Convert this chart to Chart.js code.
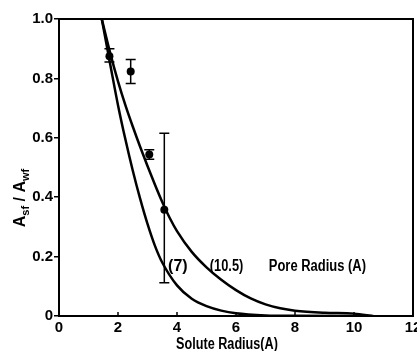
<!DOCTYPE html>
<html>
<head>
<meta charset="utf-8">
<script src="https://cdn.jsdelivr.net/npm/chart.js@4.4.1/dist/chart.umd.min.js"></script>
<style>
body { margin: 0; background: #fff; }
#wrap { width: 417px; height: 351px; }
</style>
</head>
<body>
<div id="wrap"><canvas id="poreChart"></canvas></div>
<script>
const xTicks = [0, 2, 4, 6, 8, 10, 12];
const yTicks = [0, 0.2, 0.4, 0.6, 0.8, 1.0];

// theory curve, pore radius 7 A
const pore7X = [1.45, 1.75, 2.0, 2.25, 2.5, 2.75, 3.0, 3.25, 3.5, 4.0, 4.5, 5.0, 5.5, 6.0, 7.0, 8.0, 10.6];
const pore7Y = [1.0, 0.84, 0.71, 0.595, 0.49, 0.395, 0.31, 0.237, 0.18, 0.103, 0.058, 0.033, 0.018, 0.009, 0.002, 0.0005, 0.0];

// theory curve, pore radius 10.5 A
const pore105X = [1.45, 1.75, 2.0, 2.25, 2.5, 2.75, 3.0, 3.25, 3.5, 3.75, 4.0, 4.5, 5.0, 5.5, 6.0, 6.5, 7.0, 7.5, 8.0, 9.0, 10.0, 10.65];
const pore105Y = [1.0, 0.88, 0.79, 0.71, 0.638, 0.57, 0.505, 0.443, 0.384, 0.331, 0.286, 0.216, 0.164, 0.122, 0.087, 0.059, 0.039, 0.026, 0.018, 0.011, 0.008, 0.0];

// measured points with error bars
const soluteRadius = [1.71, 2.43, 3.06, 3.57];
const areaRatio = [0.875, 0.823, 0.544, 0.358];
const errLow = [0.855, 0.783, 0.528, 0.112];
const errHigh = [0.90, 0.864, 0.56, 0.615];

const curveNames = ['(7)', '(10.5)', 'Pore Radius (A)'];

const plain = '"Liberation Sans", Arial, sans-serif';

function toPoints(xs, ys) {
    return xs.map(function (x, i) { return { x: x, y: ys[i] }; });
}

// the original lettering is condensed, squeeze it sideways
function narrowText(ctx, text, x, y, squeeze) {
    ctx.save();
    ctx.translate(x, y);
    ctx.scale(squeeze, 1);
    ctx.fillText(text, 0, 0);
    ctx.restore();
}

const extras = {
    id: 'extras',
    afterDatasetsDraw: function (chart) {
        const ctx = chart.ctx;
        const xs = chart.scales.x, ys = chart.scales.y;
        ctx.save();
        ctx.strokeStyle = '#000';
        ctx.lineWidth = 1.5;
        for (let i = 0; i < soluteRadius.length; i++) {
            const px = xs.getPixelForValue(soluteRadius[i]);
            const top = ys.getPixelForValue(errHigh[i]);
            const bot = ys.getPixelForValue(errLow[i]);
            ctx.beginPath();
            ctx.moveTo(px, top); ctx.lineTo(px, bot);
            ctx.moveTo(px - 5, top); ctx.lineTo(px + 5, top);
            ctx.moveTo(px - 5, bot); ctx.lineTo(px + 5, bot);
            ctx.stroke();
        }
        ctx.restore();
    },
    afterDraw: function (chart) {
        const ctx = chart.ctx, a = chart.chartArea;
        const xs = chart.scales.x, ys = chart.scales.y;
        ctx.save();
        ctx.strokeStyle = '#000';
        ctx.lineWidth = 2;
        ctx.beginPath();
        ctx.moveTo(a.left, a.top); ctx.lineTo(a.right, a.top); ctx.lineTo(a.right, a.bottom);
        ctx.stroke();

        // small inward ticks on x axis
        ctx.lineWidth = 1.5;
        xTicks.forEach(function (v) {
            const px = xs.getPixelForValue(v);
            ctx.beginPath();
            ctx.moveTo(px, a.bottom); ctx.lineTo(px, a.bottom - 4);
            ctx.stroke();
        });

        ctx.fillStyle = '#000';
        ctx.textBaseline = 'middle';
        ctx.textAlign = 'center';
        ctx.font = 'bold 16px ' + plain;
        const spots = [[4.03, 0.165, 1.0], [5.68, 0.165, 0.8], [8.76, 0.165, 0.81]];
        curveNames.forEach(function (t, i) {
            narrowText(ctx, t, xs.getPixelForValue(spots[i][0]), ys.getPixelForValue(spots[i][1]), spots[i][2]);
        });

        narrowText(ctx, 'Solute Radius(A)', 227, 345, 0.79);

        // y title with subscripts
        ctx.translate(25, 198);
        ctx.rotate(-Math.PI / 2);
        ctx.textAlign = 'left';
        ctx.textBaseline = 'alphabetic';
        const big = 'bold 16px ' + plain, small = 'bold 11px ' + plain;
        const parts = [['A', big, 0], ['sf', small, 4], [' / ', big, 0], ['A', big, 0], ['wf', small, 4]];
        let total = 0;
        parts.forEach(function (p) { ctx.font = p[1]; total += ctx.measureText(p[0]).width; });
        let x = -total / 2;
        parts.forEach(function (p) {
            ctx.font = p[1];
            ctx.fillText(p[0], x, p[2]);
            x += ctx.measureText(p[0]).width;
        });
        ctx.restore();
    }
};

new Chart(document.getElementById('poreChart').getContext('2d'), {
    type: 'line',
    data: {
        datasets: [
            {
                label: '(7)',
                data: toPoints(pore7X, pore7Y),
                borderColor: '#000',
                borderWidth: 2.5,
                pointRadius: 0,
                fill: false,
                cubicInterpolationMode: 'monotone'
            },
            {
                label: '(10.5)',
                data: toPoints(pore105X, pore105Y),
                borderColor: '#000',
                borderWidth: 2.5,
                pointRadius: 0,
                fill: false,
                cubicInterpolationMode: 'monotone'
            },
            {
                label: 'measured',
                data: toPoints(soluteRadius, areaRatio),
                showLine: false,
                pointRadius: 4,
                pointBackgroundColor: '#000',
                pointBorderColor: '#000',
                pointBorderWidth: 0
            }
        ]
    },
    options: {
        responsive: true,
        maintainAspectRatio: false,
        animation: false,
        layout: { padding: { top: 19, right: 4, left: 0, bottom: 0 } },
        plugins: {
            legend: { display: false },
            tooltip: { enabled: false }
        },
        scales: {
            x: {
                type: 'linear',
                min: 0,
                max: 12,
                afterBuildTicks: function (s) { s.ticks = xTicks.map(function (v) { return { value: v }; }); },
                afterFit: function (s) { s.height = 35; s.paddingLeft = 0; s.paddingRight = 0; },
                grid: { display: false, drawTicks: false },
                border: { display: true, color: '#000', width: 2 },
                ticks: {
                    padding: 3,
                    maxRotation: 0,
                    color: '#000',
                    font: { family: plain, size: 15, weight: 'bold' },
                    callback: function (v) { return String(v); }
                }
            },
            y: {
                type: 'linear',
                min: 0,
                max: 1,
                afterBuildTicks: function (s) { s.ticks = yTicks.map(function (v) { return { value: v }; }); },
                afterFit: function (s) { s.width = 59; s.paddingTop = 0; s.paddingBottom = 0; },
                grid: { display: true, drawOnChartArea: false, drawTicks: true, tickLength: 5, color: '#000', lineWidth: 1.5 },
                border: { display: true, color: '#000', width: 2 },
                ticks: {
                    padding: 1,
                    color: '#000',
                    font: { family: plain, size: 15, weight: 'bold' },
                    callback: function (v) { return v === 0 ? '0' : v.toFixed(1); }
                }
            }
        }
    },
    plugins: [extras]
});
</script>
</body>
</html>
